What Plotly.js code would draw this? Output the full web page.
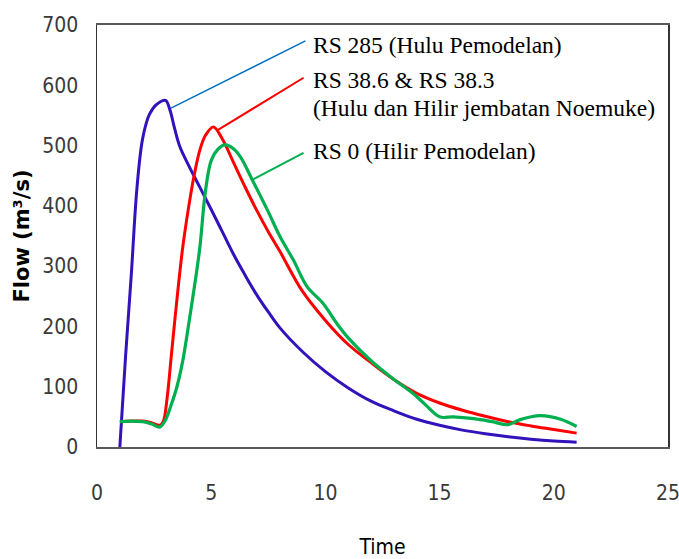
<!DOCTYPE html>
<html>
<head>
<meta charset="utf-8">
<script src="https://cdn.plot.ly/plotly-3.0.1.min.js"></script>
<style>html,body{margin:0;padding:0;background:#fff;}#chart{width:679px;height:559px;}</style>
</head>
<body>
<div id="chart"></div>
<script>
// RS 285 (Hulu Pemodelan)
const xUp = [1, 1.25, 1.5, 1.75, 2.0, 2.3, 2.6, 3.0, 3.2, 3.4, 3.63, 4.0, 4.5, 5, 5.5, 6, 6.5, 7, 7.5, 8, 9, 10, 11, 12, 13, 14, 15, 16, 17, 18, 19, 20, 21];
const yUp = [0, 150, 285, 430, 512, 552, 568, 575, 558, 528, 498, 468, 431, 394, 356, 318, 284, 252, 224, 198, 158, 125, 98, 76, 60, 46, 36, 28, 22, 17, 13, 10, 8];
// RS 38.6 & RS 38.3 (Hulu dan Hilir jembatan Noemuke)
const xMid = [1, 1.5, 2, 2.4, 2.75, 2.9, 3.06, 3.25, 3.5, 3.75, 4, 4.25, 4.5, 4.75, 5.1, 5.5, 6, 6.5, 7, 7.5, 8, 9, 10, 11, 12, 13, 14, 15, 16, 17, 18, 19, 20, 21];
const yMid = [42, 43, 43, 40, 36, 42, 78, 150, 245, 330, 395, 450, 492, 517, 531, 510, 470, 430, 392, 357, 325, 258, 210, 170, 140, 112, 89, 73, 61, 51, 42, 35, 29, 23];
// RS 0 (Hilir Pemodelan)
const xDown = [1, 1.5, 2, 2.4, 2.75, 3.0, 3.25, 3.5, 3.75, 4, 4.25, 4.5, 4.75, 5.0, 5.3, 5.6, 6.0, 6.3, 6.8, 7.5, 8, 8.6, 9.2, 9.9, 10.5, 11, 12, 13, 13.8, 14.3, 15, 15.6, 16.5, 17.3, 18, 18.5, 19.4, 20.3, 21];
const yDown = [42, 43, 42, 38, 33, 45, 70, 100, 142, 200, 262, 330, 425, 475, 494, 501, 494, 480, 443, 390, 350, 310, 266, 238, 205, 181, 143, 112, 90, 73, 50, 50, 47, 42, 37, 45, 52, 46, 34];

const xTicks = [0, 5, 10, 15, 20, 25];
const yTicks = [0, 100, 200, 300, 400, 500, 600, 700];

const labelUp = 'RS 285 (Hulu Pemodelan)';
const labelMid1 = 'RS 38.6 & RS 38.3';
const labelMid2 = '(Hulu dan Hilir jembatan Noemuke)';
const labelDown = 'RS 0 (Hilir Pemodelan)';

const tickFont = {family: '"DejaVu Sans Condensed", sans-serif', size: 21, color: '#3a3a3a'};
const noteFont = {family: '"Liberation Serif", "Times New Roman", serif', size: 23.5, color: '#000'};

const traces = [
  {x: xUp, y: yUp, mode: 'lines', line: {color: '#3311bb', width: 3, shape: 'spline', smoothing: 1}, name: 'RS 285'},
  {x: xMid, y: yMid, mode: 'lines', line: {color: '#ff0000', width: 3, shape: 'spline', smoothing: 1}, name: 'RS 38.6'},
  {x: xDown, y: yDown, mode: 'lines', line: {color: '#00b050', width: 3.2, shape: 'spline', smoothing: 1}, name: 'RS 0'}
];

function note(y, text) {
  return {x: 9.38, y: y, xref: 'x', yref: 'y', text: text, showarrow: false, xanchor: 'left', yanchor: 'middle', align: 'left', font: noteFont};
}
function callout(x, y, ax, ay, color, w) {
  return {x: x, y: y, ax: ax, ay: ay, xref: 'x', yref: 'y', axref: 'x', ayref: 'y', text: '', showarrow: true, arrowhead: 0, arrowwidth: w, arrowcolor: color, standoff: 0, startstandoff: 0};
}

const layout = {
  width: 679, height: 559,
  margin: {l: 97, r: 11, t: 25, b: 112},
  paper_bgcolor: '#fff', plot_bgcolor: '#fff',
  showlegend: false,
  xaxis: {
    range: [0, 25], tickvals: xTicks, ticktext: xTicks.map(String),
    showgrid: false, zeroline: false, ticks: '',
    showline: true, linecolor: '#595959', linewidth: 2, mirror: true,
    tickfont: tickFont, ticklabelstandoff: 26, ticklabeloverflow: 'allow',
    title: {text: 'Time', font: {family: '"DejaVu Sans Condensed", sans-serif', size: 21, color: '#000'}, standoff: 35}
  },
  yaxis: {
    range: [0, 700], tickvals: yTicks, ticktext: yTicks.map(String),
    showgrid: false, zeroline: false, ticks: '',
    showline: true, linecolor: '#333', linewidth: 1.5, mirror: true,
    tickfont: tickFont, ticklabelstandoff: 13, ticklabeloverflow: 'allow',
    title: {text: '<b>Flow (m³/s)</b>', font: {family: '"DejaVu Sans", sans-serif', size: 21, color: '#000'}, standoff: 7}
  },
  annotations: [
    callout(3.24, 562, 9.19, 675, '#0070c0', 1.5),
    callout(5.30, 526, 9.11, 614, '#ff0000', 2),
    callout(6.79, 443, 9.11, 489, '#00b050', 2),
    note(667, labelUp),
    note(608, labelMid1),
    note(562, labelMid2),
    note(491, labelDown)
  ]
};

Plotly.newPlot('chart', traces, layout, {displayModeBar: false, staticPlot: true});
</script>
</body>
</html>
